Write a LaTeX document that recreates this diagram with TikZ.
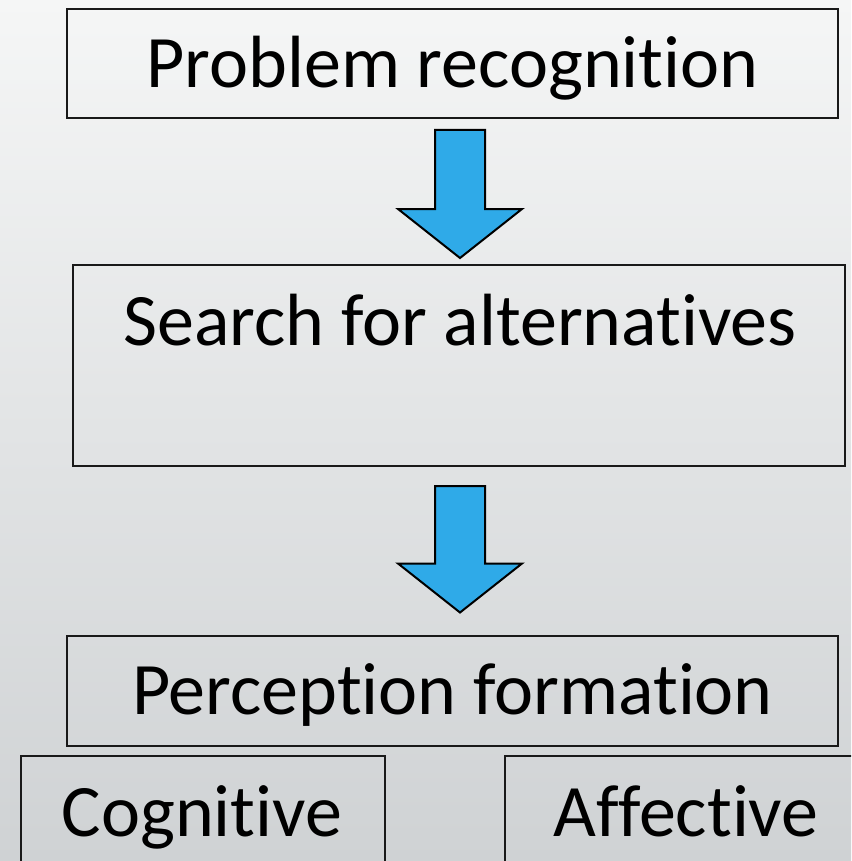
\documentclass[tikz,border=0pt]{standalone}
\usepackage{fontspec}
\setmainfont{Carlito}[Ligatures=NoCommon]
\usetikzlibrary{calc}
\definecolor{bgtop}{RGB}{245,246,246}
\definecolor{bgbot}{RGB}{207,210,212}
\definecolor{arrowblue}{RGB}{47,170,232}
\definecolor{boxline}{RGB}{25,25,25}
\begin{document}
\begin{tikzpicture}[x=1pt,y=-1pt,
  box/.style={draw=boxline,line width=2pt,rectangle,inner sep=0pt},
  lbl/.style={anchor=base,inner sep=0pt,font=\fontsize{74}{88}\selectfont,text=black},
  blockarrow/.style={fill=arrowblue,draw=black,line width=2pt,line join=miter}]
\useasboundingbox (0,0) rectangle (851,861);
\clip (0,0) rectangle (851,861);
\shade[top color=bgtop,bottom color=bgbot] (0,0) rectangle (851,861);

% boxes
\node[box,minimum width=771pt,minimum height=109pt] (b1) at (452.5,63.5) {};
\node[box,minimum width=772pt,minimum height=201pt] (b2) at (459,365.5) {};
\node[box,minimum width=771pt,minimum height=110pt] (b3) at (452.5,690.5) {};
\node[box,minimum width=364pt,minimum height=140pt] (b4) at (203,826) {};
\node[box,minimum width=362pt,minimum height=140pt] (b5) at (686,826) {};

% labels
\node[lbl] (t1) at (452.5,88) {Problem recognition};
\node[lbl] (t2) at (460,345) {Search for alternatives};
\node[lbl] (t3) at (452.5,714) {Perception formation};
\node[lbl] (t4) at (202,836) {Cognitive};
\node[lbl] (t5) at (686,836) {Affective};

% block arrows
\coordinate (a1s) at ($(b1.south)+(7.5,11)$);
\coordinate (a1e) at ($(b2.north)+(1,-6)$);
\coordinate (a2s) at ($(b2.south)+(1,19)$);
\coordinate (a2e) at ($(b3.north)+(7.5,-22)$);
\foreach \s/\e in {a1s/a1e,a2s/a2e}{
  \draw[blockarrow]
    ($(\s)+(-25,0)$) -- ($(\s)+(25,0)$) --
    ($(\e)+(25,-49)$) -- ($(\e)+(62,-49)$) -- (\e) --
    ($(\e)+(-62,-49)$) -- ($(\e)+(-25,-49)$) -- cycle;
}
\end{tikzpicture}
\end{document}
